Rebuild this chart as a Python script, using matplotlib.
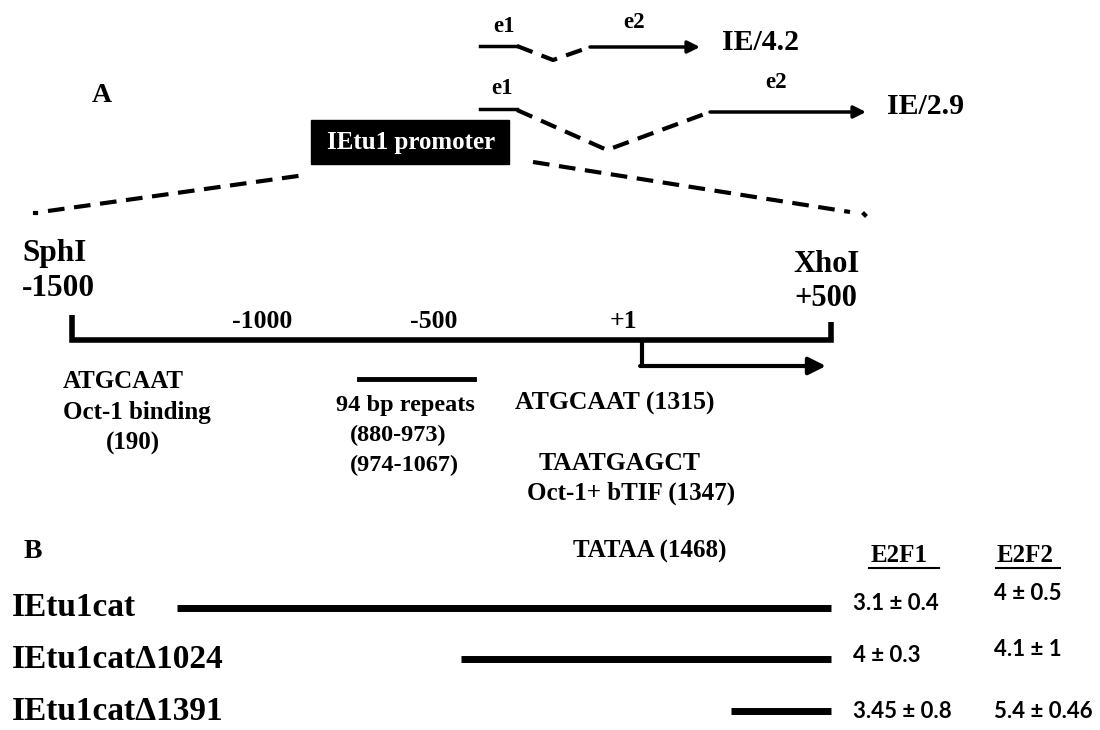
import matplotlib
matplotlib.use('Agg')
import matplotlib.pyplot as plt
from matplotlib.patches import Rectangle

# promoter map, bp relative to the cap site (+1)
map_start, map_end = -1500, 500
tss = 1
scale_ticks = [-1000, -500, 1]
scale_labels = ['-1000', '-500', '+1']
repeat_span = [-745, -440]          # 94 bp repeats bar

# constructs (panel B)
constructs = ['IEtu1cat', 'IEtu1catΔ1024', 'IEtu1catΔ1391']
construct_start = [-1223, -476, 236]
construct_end = [500, 500, 500]
e2f1 = ['3.1 ± 0.4', '4 ± 0.3', '3.45 ± 0.8']
e2f2 = ['4 ± 0.5', '4.1 ± 1', '5.4 ± 0.46']

SERIF = ['Liberation Serif', 'DejaVu Serif']
SANS = ['Lato', 'DejaVu Sans']

fig = plt.figure(figsize=(11, 7.3), dpi=100)
ax = fig.add_axes([0, 0, 1, 1])
ax.set_xlim(0, 1100)
ax.set_ylim(730, 0)
ax.axis('off')

x0, x1 = 72, 831   # pixel span of the map


def bp(v):
    return x0 + (v - map_start) * (x1 - x0) / (map_end - map_start)


def txt(x, y, s, size, ha='left', va='center', fam=SERIF, **kw):
    ax.text(x, y, s, fontsize=size, ha=ha, va=va, family=fam,
            fontweight='bold', **kw)


def arrow(xs, ys, xe, ye, lw=2.5, ms=18):
    ax.annotate('', xy=(xe, ye), xytext=(xs, ys),
                arrowprops=dict(arrowstyle='-|>', lw=lw, color='black',
                                mutation_scale=ms, shrinkA=0, shrinkB=0))


dash = dict(color='black', lw=3, dashes=[4, 2.3], solid_capstyle='butt')

# ---- panel A: transcripts ----
txt(102, 95, 'A', 20, ha='center')

# IE/4.2
ax.plot([480, 517], [46, 46], color='black', lw=2.5)
ax.plot([517, 553, 590], [46, 60, 47], **dash)
arrow(590, 47, 700, 47)
txt(504, 26, 'e1', 16.5, ha='center')
txt(634, 23, 'e2', 16.5, ha='center')
txt(722, 42, 'IE/4.2', 21.5)

# IE/2.9
ax.plot([480, 517], [109, 109], color='black', lw=2.5)
ax.plot([517, 607, 710], [110, 150, 112], **dash)
arrow(710, 112, 866, 112)
txt(502, 88, 'e1', 16.5, ha='center')
txt(776, 83, 'e2', 16.5, ha='center')
txt(887, 107, 'IE/2.9', 21.5)

# promoter box and zoom lines
ax.add_patch(Rectangle((311, 120), 198, 44, color='black'))
txt(411, 142, 'IEtu1 promoter', 18, ha='center', color='white')
ax.plot([35, 36], [213, 213], color='black', lw=3)
ax.plot([48, 305], [211, 175], **dash)
ax.plot([533, 850], [162, 212], **dash)
ax.plot([864, 865], [214, 215], color='black', lw=3)

# ---- promoter map ----
txt(22, 253, 'SphI', 22.5)
txt(22, 288, '-1500', 22.5)
txt(826, 265, 'XhoI', 22, ha='center')
txt(826, 298, '+500', 22, ha='center')

ax.plot([bp(map_start), bp(map_start), bp(map_end), bp(map_end)],
        [315, 340, 340, 322], color='black', lw=4,
        solid_joinstyle='miter', solid_capstyle='butt')
nudge = [0, -18, -18]
for v, lab, dx in zip(scale_ticks, scale_labels, nudge):
    txt(bp(v) + dx, 322, lab, 18.5, ha='center')

# transcription start arrow
ax.plot([bp(tss), bp(tss)], [340, 366], color='black', lw=3,
        solid_capstyle='butt')
arrow(bp(tss) - 1.5, 366, bp(map_end) - 5, 366, lw=3, ms=26)

# 94 bp repeats
ax.plot([bp(repeat_span[0]), bp(repeat_span[1])], [379, 379],
        color='black', lw=3.5)
txt(405, 405, '94 bp repeats', 17.5, ha='center')
txt(350, 435, '(880-973)', 17.5)
txt(350, 465, '(974-1067)', 17.5)

txt(63, 382, 'ATGCAAT', 18)
txt(63, 413, 'Oct-1 binding', 18)
txt(133, 443, '(190)', 18, ha='center')

txt(615, 403, 'ATGCAAT (1315)', 18.5, ha='center')
txt(620, 464, 'TAATGAGCT', 18.5, ha='center')
txt(631, 493, 'Oct-1+ bTIF (1347)', 18, ha='center')

# ---- panel B ----
txt(33, 552, 'B', 20, ha='center')
txt(650, 551, 'TATAA (1468)', 18, ha='center')
txt(871, 555, 'E2F1', 18)
ax.plot([869, 939], [568, 568], color='black', lw=1.5)
txt(997, 555, 'E2F2', 18)
ax.plot([996, 1060], [568, 568], color='black', lw=1.5)

rows = [608, 659, 711]
e2f2_dy = [-10, -5, 5]
for i, y in enumerate(rows):
    txt(12, y, constructs[i], 24)
    ax.plot([bp(construct_start[i]), bp(construct_end[i])], [y, y],
            color='black', lw=5, solid_capstyle='butt')
    txt(853, y - 4 + (5 if i == 2 else 0), e2f1[i], 16, fam=SANS)
    txt(994, y - 4 + e2f2_dy[i], e2f2[i], 16, fam=SANS)

fig.savefig('out.png', dpi=100)
